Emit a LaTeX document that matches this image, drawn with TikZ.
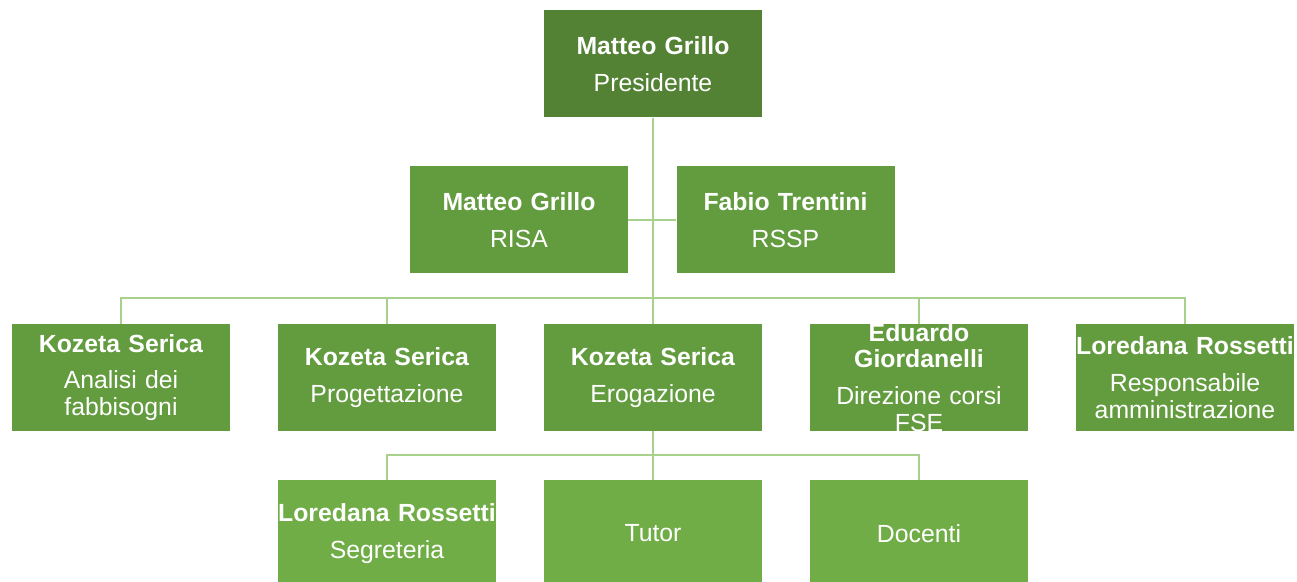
\documentclass[tikz,border=0pt]{standalone}
\usepackage{fontspec}
\setmainfont{Liberation Sans}
\usepackage{xcolor}
\usetikzlibrary{calc}

\definecolor{topgreen}{HTML}{548235}
\definecolor{midgreen}{HTML}{639B3F}
\definecolor{lowgreen}{HTML}{70AD47}
\definecolor{wiregreen}{HTML}{A9D18E}

\tikzset{
    unit/.style={rectangle, inner sep=0pt, minimum width=109pt, minimum height=53.5pt},
    tag/.style={text=white, align=center, text width=109pt, inner sep=0pt,
        font=\fontsize{12.4}{13.4}\selectfont},
    wire/.style={draw=wiregreen, line width=1pt}
}

\begin{document}
\begin{tikzpicture}[x=0.5pt, y=-0.5pt]
    \useasboundingbox[fill=white] (0,0) rectangle (1297,582);
    \clip (0,0) rectangle (1297,582);

    % Presidente
    \node[unit, fill=topgreen] (pres) at (653,64) {};

    % Staff
    \node[unit, fill=midgreen] (risa) at (519,220) {};
    \node[unit, fill=midgreen] (rssp) at (785.5,220) {};

    % Responsabili
    \node[unit, fill=midgreen] (analisi) at (121,377.5) {};
    \node[unit, fill=midgreen] (prog) at (387,377.5) {};
    \node[unit, fill=midgreen] (ero) at (653,377.5) {};
    \node[unit, fill=midgreen] (dir) at (919,377.5) {};
    \node[unit, fill=midgreen] (amm) at (1185,377.5) {};

    % Erogazione
    \node[unit, fill=lowgreen] (segr) at (387,533.5) {};
    \node[unit, fill=lowgreen] (tutor) at (653,533.5) {};
    \node[unit, fill=lowgreen] (doc) at (919,533.5) {};

    % Connectors
    \coordinate (rail) at (653,298);
    \coordinate (rail4) at (653,455);
    \draw[wire] (pres.south) -- (ero.north);
    \draw[wire] (risa.east) -- (rssp.west);
    \draw[wire] (analisi.north) |- (rail) -| (amm.north);
    \foreach \n in {prog,dir}
        \draw[wire] (\n.north) -- (\n.north |- rail);
    \draw[wire] (ero.south) -- (tutor.north);
    \draw[wire] (segr.north) |- (rail4) -| (doc.north);

    % Texts
    \node[tag] at (pres) {\textbf{Matteo Grillo}\\[5pt]Presidente};
    \node[tag] at (risa) {\textbf{Matteo Grillo}\\[5pt]RISA};
    \node[tag] at (rssp) {\textbf{Fabio Trentini}\\[5pt]RSSP};
    \node[tag] at (analisi) {\textbf{Kozeta Serica}\\[5pt]Analisi dei\\fabbisogni};
    \node[tag] at (prog) {\textbf{Kozeta Serica}\\[5pt]Progettazione};
    \node[tag] at (ero) {\textbf{Kozeta Serica}\\[5pt]Erogazione};
    \node[tag] at (dir) {\textbf{Eduardo}\\\textbf{Giordanelli}\\[5pt]Direzione corsi\\FSE};
    \node[tag] at (amm) {\textbf{Loredana Rossetti}\\[5pt]Responsabile\\amministrazione};
    \node[tag] at (segr) {\textbf{Loredana Rossetti}\\[5pt]Segreteria};
    \node[tag] at (tutor) {Tutor};
    \node[tag] at (doc) {Docenti};
\end{tikzpicture}
\end{document}
